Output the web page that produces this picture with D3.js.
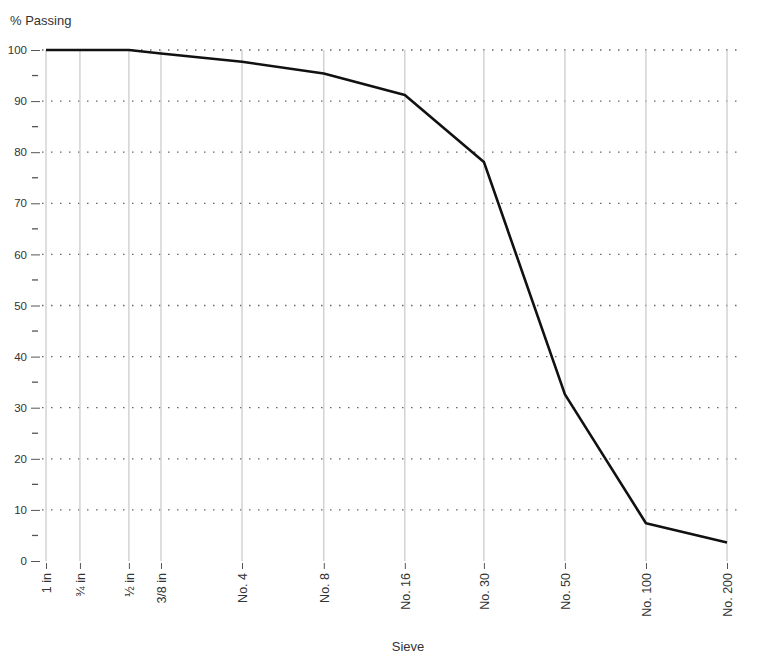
<!doctype html>
<html>
<head>
    <meta charset="UTF-8">
    <script src="https://d3js.org/d3.v7.min.js"></script>
    <title></title>
</head>
<body style="margin:0;background:#fff">
<style>
    text { font-family: Arial, "Liberation Sans", sans-serif; fill: #333; }
</style>
<div id="graph"></div>
<script>
    // sieve sizes (mm), labels and % passing
    var sieves = ["1 in", "¾ in", "½ in", "3/8 in", "No. 4", "No. 8", "No. 16", "No. 30", "No. 50", "No. 100", "No. 200"];
    var sizes = [25.4, 19, 12.5, 9.5, 4.75, 2.36, 1.18, 0.6, 0.3, 0.15, 0.075];
    var passing = [100, 100, 100, 99.3, 97.7, 95.4, 91.2, 78.1, 32.6, 7.4, 3.6];
    var yTicks = [0, 10, 20, 30, 40, 50, 60, 70, 80, 90, 100];
    var yMinor = [5, 15, 25, 35, 45, 55, 65, 75, 85, 95];

    var w = 768, h = 655;
    var svg = d3.select("#graph").append("svg")
            .attr("width", w)
            .attr("height", h);

    var x = d3.scaleLog().domain([25.4, 0.075]).range([46, 727]);
    var y = d3.scaleLinear().domain([0, 100]).range([561, 50]);

    // horizontal dotted grid
    svg.selectAll(".hgrid")
            .data(yTicks.filter(function(d) { return d > 0; }))
            .enter().append("line")
            .attr("x1", 42).attr("x2", 740)
            .attr("y1", function(d) { return y(d); })
            .attr("y2", function(d) { return y(d); })
            .style("stroke", "#666")
            .style("stroke-width", 1.3)
            .style("stroke-dasharray", "1.5,7.5");

    // vertical grid at sieves
    svg.selectAll(".vgrid")
            .data(sizes)
            .enter().append("line")
            .attr("x1", function(d) { return x(d); })
            .attr("x2", function(d) { return x(d); })
            .attr("y1", y(100))
            .attr("y2", y(0))
            .style("stroke", "#c8c8c8")
            .style("stroke-width", 1.2);

    // y axis
    var yAxis = svg.append("g")
            .attr("transform", "translate(40,0)")
            .call(d3.axisLeft(y).tickValues(yTicks).tickSize(9).tickPadding(4));
    yAxis.select(".domain").remove();
    yAxis.selectAll("line").style("stroke", "#555");
    yAxis.selectAll("text").style("font-size", "11.5px").style("fill", "#333");

    svg.selectAll(".yminor")
            .data(yMinor)
            .enter().append("line")
            .attr("x1", 32).attr("x2", 38)
            .attr("y1", function(d) { return y(d); })
            .attr("y2", function(d) { return y(d); })
            .style("stroke", "#555")
            .style("stroke-width", 1.3);

    // x axis
    var xAxis = svg.append("g")
            .attr("transform", "translate(0,563)")
            .call(d3.axisBottom(x).tickValues(sizes)
                    .tickFormat(function(d, i) { return sieves[i]; })
                    .tickSize(6).tickPadding(3));
    xAxis.select(".domain").remove();
    xAxis.selectAll("line").style("stroke", "#555");
    xAxis.selectAll("text")
            .style("font-size", "12.5px")
            .style("fill", "#333")
            .attr("transform", "rotate(-90)")
            .attr("text-anchor", "end")
            .attr("x", -10)
            .attr("y", 0)
            .attr("dy", "0.35em");

    // gradation curve
    var pts = sizes.map(function(s, i) { return [s, passing[i]]; });
    svg.append("path")
            .datum(pts)
            .attr("d", d3.line()
                    .x(function(d) { return x(d[0]); })
                    .y(function(d) { return y(d[1]); }))
            .style("fill", "none")
            .style("stroke", "#111")
            .style("stroke-width", 2.6)
            .style("stroke-linejoin", "round");

    // titles
    svg.append("text")
            .attr("x", 10).attr("y", 25)
            .style("font-size", "13px")
            .text("% Passing");
    svg.append("text")
            .attr("x", 408).attr("y", 651)
            .attr("text-anchor", "middle")
            .style("font-size", "13px")
            .text("Sieve");
</script>
</body>
</html>
